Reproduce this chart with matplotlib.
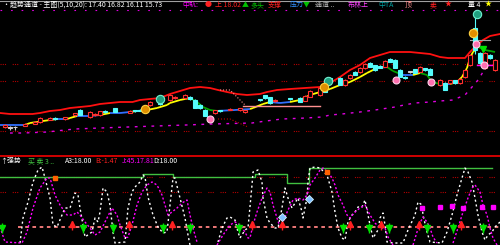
import numpy as np
import matplotlib
matplotlib.use('Agg')
import matplotlib.pyplot as plt
from matplotlib.patches import Rectangle
from matplotlib.collections import LineCollection
from matplotlib.lines import Line2D

plt.rcParams['font.family'] = ['Noto Sans CJK SC', 'DejaVu Sans']
plt.rcParams['font.size'] = 5.5

########################################################
# main panel (price)
upper_d = [0, 2, 6.5, 8, 10, 12, 14, 16, 18, 20, 22, 24, 26.5, 28, 30, 32, 34, 36, 38, 40,
           42, 43.6, 45.4, 47.4, 49.4, 52, 53.4, 55.4, 58, 61, 64, 66, 68, 70, 72, 74, 76,
           78, 82, 84, 86, 88, 89.6, 93, 94, 95.4, 96.6, 98, 100]
upper_p = [8.7, 8.6, 8.6, 8.7, 8.9, 9.0, 9.2, 9.3, 9.4, 9.6, 9.7, 9.8, 9.8, 10.0, 10.1, 10.2,
           10.6, 10.9, 11.2, 11.3, 11.2, 11.0, 10.8, 10.6, 10.5, 10.6, 10.8, 11.0, 11.1, 11.2,
           11.3, 11.7, 12.3, 13.0, 13.5, 14.2, 14.5, 14.8, 14.8, 14.7, 14.6, 14.3, 14.2, 14.2,
           14.8, 15.5, 16.0, 16.4, 16.6]

mid_d = [0, 2, 5, 6, 7.4, 8.6, 11.4, 13.4, 14, 15.4, 18, 20, 22, 24, 26, 27.4, 29.4, 31.4,
         33.4, 34, 36, 38, 39.4, 40.6, 42, 43.4, 47, 50, 50.6, 52.6, 54, 56, 58, 60, 62, 64,
         66, 68, 70, 72, 73.4, 75.4, 77.4, 78.6, 80.6, 82.6, 84, 85.4, 86.4, 88, 90, 91.4,
         92.4, 93.4, 94, 94.6, 95.6, 97, 99]
mid_p = [7.5, 7.5, 7.5, 7.7, 7.8, 7.9, 8.1, 8.1, 8.2, 8.4, 8.4, 8.5, 8.7, 8.7, 8.8, 8.9, 9.0,
         9.2, 9.5, 9.7, 10.0, 10.2, 9.8, 9.3, 9.0, 8.9, 9.0, 9.1, 9.2, 9.6, 9.8, 9.7, 9.8,
         10.0, 10.5, 10.8, 11.1, 11.5, 11.8, 12.3, 12.7, 13.2, 13.3, 12.9, 12.5, 12.5, 12.7,
         12.5, 11.8, 11.6, 11.6, 11.8, 12.3, 13.2, 14.2, 14.8, 15.3, 15.0, 14.8]

lower_d = [2, 4.6, 9.4, 13, 15, 20, 25.6, 31.2, 37.2, 42.4, 50.4, 53.2, 56.4, 61.2, 64.4, 66,
           68.4, 72, 75, 79, 80.8, 83, 86, 88, 90.6, 93, 94.4, 95.6, 96.6]
lower_p = [6.7, 6.7, 6.8, 7.0, 7.1, 7.2, 7.3, 7.4, 7.5, 7.6, 7.7, 7.9, 8.1, 8.2, 8.3, 8.5, 8.6,
           8.8, 9.0, 9.3, 9.5, 9.7, 9.8, 9.9, 10.0, 10.5, 11.3, 12.0, 12.8]

cd_day = [1, 2, 3, 5, 7, 8, 10, 11, 13, 15, 16, 18, 19, 20, 21, 23, 26, 27, 28, 30, 32, 34, 35,
          37, 38, 39, 40, 41, 43, 44, 46, 48, 49, 52, 53, 54, 55, 58, 60, 61, 62, 64, 65, 66,
          68, 69, 70, 71, 72, 73, 74, 75, 76, 77, 78, 79, 80, 81, 82, 83, 84, 85, 86, 88, 89,
          90, 91, 92, 93, 94, 95, 96, 97, 98, 99]
cd_open = [7.3, 7.2, 7.25, 7.4, 7.6, 7.8, 8.0, 8.2, 8.1, 8.5, 9.0, 8.3, 8.5, 8.5, 8.9, 9.2, 8.7,
           9.0, 9.0, 9.5, 9.7, 10.0, 10.2, 10.2, 10.3, 10.0, 9.5, 9.0, 8.7, 9.0, 9.0, 9.0, 8.8,
           10.1, 10.5, 10.3, 9.9, 10.2, 10.2, 9.9, 10.3, 10.5, 11.0, 12.2, 12.2, 11.5, 12.2,
           12.8, 12.8, 13.2, 13.7, 13.5, 13.4, 13.3, 14.1, 14.0, 13.0, 12.3, 12.8, 13.1, 12.8,
           13.2, 13.1, 11.5, 11.7, 11.7, 12.0, 11.7, 12.3, 13.5, 17.2, 14.7, 13.2, 14.5, 13.0]
cd_close = [7.5, 7.2, 7.25, 7.6, 7.8, 8.2, 8.2, 8.1, 8.3, 8.7, 8.5, 8.8, 8.6, 8.9, 8.8, 8.8, 8.9,
            8.9, 8.9, 9.8, 9.6, 10.5, 10.3, 10.5, 10.1, 9.2, 9.2, 8.4, 9.0, 8.9, 9.1, 9.2, 9.0,
            10.0, 10.2, 9.7, 10.0, 10.1, 9.8, 10.4, 10.9, 11.2, 10.8, 11.8, 11.5, 12.0, 12.5,
            12.5, 13.2, 13.6, 13.3, 13.0, 13.2, 13.9, 13.8, 13.2, 12.3, 12.2, 12.8, 12.7, 13.3,
            13.0, 12.5, 12.0, 11.0, 12.0, 11.7, 12.1, 13.0, 14.5, 15.0, 13.7, 14.7, 14.2, 14.0]
cd_high = [7.6, 7.4, 7.4, 7.7, 7.9, 8.3, 8.3, 8.3, 8.3, 8.7, 9.1, 8.9, 8.7, 8.9, 9.0, 9.2, 9.0,
           9.0, 9.1, 9.9, 9.7, 10.6, 10.4, 10.6, 10.4, 10.1, 9.6, 9.1, 9.0, 9.0, 9.2, 9.2, 9.0,
           10.1, 10.5, 10.3, 10.1, 10.2, 10.3, 10.5, 11.0, 11.3, 11.1, 12.3, 12.3, 12.1, 12.6,
           12.9, 13.3, 13.7, 13.8, 13.5, 13.5, 14.0, 14.2, 14.1, 13.1, 12.4, 12.9, 13.1, 13.4,
           13.2, 13.2, 12.1, 11.8, 12.0, 12.0, 12.2, 13.1, 14.6, 18.4, 14.8, 14.8, 14.6, 14.1]
cd_low = [7.2, 7.0, 7.0, 7.4, 7.6, 7.7, 8.0, 8.0, 8.0, 8.4, 8.5, 8.2, 8.4, 8.4, 8.7, 8.8, 8.7,
          8.8, 8.9, 9.4, 9.5, 9.9, 10.1, 10.1, 10.0, 9.2, 9.1, 8.4, 8.6, 8.8, 9.0, 8.9, 8.7,
          9.9, 10.1, 9.6, 9.8, 10.0, 9.8, 9.9, 10.3, 10.4, 10.8, 11.8, 11.5, 11.4, 12.1, 12.5,
          12.7, 13.1, 13.3, 12.9, 13.2, 13.3, 13.8, 13.2, 12.3, 12.1, 12.7, 12.7, 12.8, 12.9,
          12.5, 11.4, 11.0, 11.6, 11.6, 11.6, 12.2, 13.4, 14.6, 13.6, 13.1, 14.1, 12.9]

grid_p = [13.6, 11.9, 6.9]
top_line_p = 19.0

teal_coin_d = [31.9, 65.5, 95.3]
teal_coin_p = [10.1, 11.9, 18.6]
gold_coin_d = [29, 64.8, 94.5]
gold_coin_p = [9.1, 11.3, 16.7]
pink_d = [42, 79.2, 86.2, 95.2, 96.8]
pink_p = [8.07, 12.0, 11.8, 15.6, 13.5]

# support / resistance marks
salmon_d = [48.6, 64]
salmon_p = [9.4, 9.4]
pink_drop_d = [44, 46, 49]
pink_drop_p = [11.0, 11.0, 9.5]
red_drop_d = [43.6, 46, 49.6]
red_drop_p = [8.1, 8.1, 7.3]
gray_seg_d = [94, 98]
gray_seg_p = [16.0, 16.0]
mag_seg_d = [95.4, 98.4]
mag_seg_p = [13.5, 13.5]

# lower panel (oscillator)
white_d = [4, 4.6, 5.6, 6.6, 7.6, 8.4, 9, 10, 10.6, 11.4, 12.4, 13, 14, 15, 15.6, 16, 16.6, 17,
           18.4, 19, 19.6, 20, 20.6, 21.4, 22, 22.6, 23, 25, 25.6, 26.4, 27, 28, 28.6, 29, 29.6,
           30.6, 31.6, 32.6, 33.4, 34, 34.6, 35, 36, 37, 37.6, 38, np.nan,
           43.6, 44.4, 45.4, 46, 47, 47.6, 48, 49, 49.6, 50.4, 50.6, 51.6, 52.4, 52.6, 53.4, 54,
           55, 55.6, 56.4, 57, 57.6, 58.4, 59, 59.6, 60.4, 60.6, 61, 61.4, 61.6, 62, 63, 64,
           65.4, 66.4, 67, 67.6, 68.4, 69, 69.6, 70.4, 71, 71.6, 72.4, 73, 73.4, 74, 74.6, 75.6,
           76, 76.6, 77, 77.4, 78.6, 80.6, 81.6, 83, 83.6, 84.4, 84.6, 85.4, 86, 88.4, 89.4,
           90.4, 91.4, 92.4, 93, 93.6, 94.4, 95, 95.6, 96.4, 97, 97.6, 98.4, 99, 100]
white_v = [-32, 18, 50, 90, 114, 120, 98, 58, 4, 0, 24, 38, 38, 68, 64, 38, 4, -20, -10, 18, 10,
           30, 78, 70, 44, -10, -32, -30, 38, 70, 80, 90, 104, 100, 60, 24, 0, -12, -10, 44, 98,
           98, 58, 18, -16, -36, np.nan,
           -30, -2, 18, 20, 14, -10, -22, -6, -2, 84, 110, 114, 90, 58, 18, 8, -2, -2, 38, 78,
           58, 38, 48, 58, 30, 18, 38, 58, 90, 118, 120, 118, 104, 70, 30, -2, -22, -26, 10, 24,
           30, 40, 40, 54, 34, 4, -22, -6, 18, 28, 4, -30, -32, -32, -6, 24, 50, 44, 24, -10,
           -30, -32, -10, 24, 64, 98, 118, 110, 90, 58, 24, -10, -26, -16, -10, 0, 10]

mag_d = [0, 1, 4.4, 5.4, 6.6, 8, 9.4, 10, 11, 12, 13.4, 14.6, 15.4, 16, 17, 18, 19, 20, 21.4,
         22.4, 23.4, 24, 25, 25.6, 26.4, 27.4, 28.4, 29.4, 30.4, 31.4, 32.4, 33, 33.6, 34.4,
         35.4, 36.4, 37.4, 38, 38.6, 39.4, np.nan,
         43.4, 44.6, 46, 47, 48, 49, 49.6, 50, 50.6, 51.4, 52.4, 53.4, 54, 54.6, 55.4, 56, 56.6,
         57.6, 58.6, 59.6, 60.6, 61.4, 62, 63, 64, 64.6, 65.6, 66.4, 67, 67.6, 68.6, 69.4, 70,
         71, 72, 73, 74, 75, 76, 77, 77.6, 78.6, np.nan,
         82.6, 83.4, 84, 84.6, 85.4, 86, 86.6, 87.4, np.nan,
         90.6, 91.6, 92.6, 93.6, 94.4, 95, 96, 96.6, 97.4, 98, 98.6, 99.4]
mag_v = [0, -30, -32, -10, 38, 78, 98, 98, 64, 44, 24, 24, 30, 24, 10, -2, -16, -10, 18, 38, 24,
         4, -22, -20, 4, 44, 70, 84, 90, 84, 64, 44, 24, 30, 38, 48, 54, 24, -2, -30, np.nan,
         -36, -16, 4, 10, 4, -10, -22, -22, 4, 30, 58, 78, 70, 44, 18, 0, 10, 34, 54, 58, 54,
         64, 84, 98, 114, 118, 110, 98, 84, 64, 44, 24, 18, 30, 38, 44, 24, 8, -2, -2, -20,
         -36, np.nan,
         -36, -10, 8, 20, 10, -2, -20, -32, np.nan,
         -32, -2, 30, 58, 78, 84, 70, 44, 24, -2, -22, -36]

green_d = [0, 28.6, 34.6, 51, 57.4, 61.8, 98.4]
green_v = [100, 106, 100, 106, 88, 118, 118]
osc_grid_v = [100, 70]
base_v = 0

buy_d = [0.4, 16.6, 22.6, 32.6, 38, 47.8, 68.6, 73.8, 77.8, 85.4, 90.6, 96.6]
sell_d = [14.4, 25.8, 34.4, 50.4, 56.4, 70, 76.2, 83.8, 92.2]
box_d = [84.4, 88, 90.4, 92.6, 96.4, 98.6]
box_v = [38, 40, 42, 38, 40, 40]
cloud_d = [56.4, 61.8]
cloud_v = [20, 56]
########################################################

fig = plt.figure(figsize=(5, 2.45), dpi=100, facecolor='black')
ax = fig.add_axes([0, 90 / 245, 1, 155 / 245])
ax2 = fig.add_axes([0, 0, 1, 88 / 245])
for a in (ax, ax2):
    a.set_facecolor('black')
    a.set_xlim(0, 100)
    a.set_xticks([])
    a.set_yticks([])
    for s in a.spines.values():
        s.set_visible(False)
ax.set_ylim(4.5, 20.0)
ax2.set_ylim(-36, 140)

# ---------------- main panel
for g in grid_p:
    ax.axhline(g, color='#b00000', lw=0.8, ls=(0, (1, 1, 1, 1, 1, 6)))
ax.axhline(top_line_p, color='#e000e0', lw=0.8, ls=(0, (1.5, 8)))

ax.plot(upper_d, upper_p, color='#ff1010', lw=1.3)
ax.plot(lower_d, lower_p, color='#e000e0', lw=1.0, ls=(0, (2, 4)))

# mid line coloured by slope
pts = np.column_stack([mid_d, mid_p])
segs = np.stack([pts[:-1], pts[1:]], axis=1)
slope = np.diff(mid_p) / np.diff(mid_d)
cols = ['#ffff00' if s > 0.06 else ('#00a000' if s < -0.06 else '#3070ff') for s in slope]
ax.add_collection(LineCollection(segs, colors=cols, linewidths=1.3))

ax.plot(salmon_d, salmon_p, color='#ff9090', lw=1.0)
ax.plot(pink_drop_d, pink_drop_p, color='#ff9090', lw=0.8, ls=':')
ax.plot(red_drop_d, red_drop_p, color='#c00000', lw=0.8, ls=':')
ax.plot(gray_seg_d, gray_seg_p, color='#a0a0a0', lw=0.8)
ax.plot(mag_seg_d, mag_seg_p, color='#ff00ff', lw=1.0)

w = 0.7
for d, o, c, h, l in zip(cd_day, cd_open, cd_close, cd_high, cd_low):
    if c > o:
        col, fc = '#ff3030', 'black'
    elif c < o:
        col, fc = '#54fcfc', '#54fcfc'
    else:
        col, fc = '#d0d0d0', '#d0d0d0'
    ax.vlines(d, l, h, color=col, lw=0.8, zorder=3)
    lo = min(o, c)
    ht = max(abs(c - o), 0.05)
    ax.add_patch(Rectangle((d - w / 2, lo), w, ht, facecolor=fc, edgecolor=col, lw=0.8, zorder=4))

ax.plot(teal_coin_d, teal_coin_p, 'o', ms=6, mfc='#20a080', mec='#70f0d0', mew=0.8, zorder=6)
ax.plot(gold_coin_d, gold_coin_p, 'o', ms=6, mfc='#e09000', mec='#ffd040', mew=0.8, zorder=6)
ax.plot(pink_d, pink_p, 'o', ms=5, mfc='#ff70b0', mec='#ffd0e8', mew=0.8, zorder=6)
ax.plot([96.6], [15.1], 'v', ms=4, color='#00e000', zorder=6)

# ---------------- lower panel
for g in osc_grid_v:
    ax2.axhline(g, color='#b00000', lw=0.8, ls=(0, (1, 1, 1, 1, 1, 6)))
ax2.plot([3.6, 100], [base_v, base_v], color='#ff8080', lw=1.3, ls=(0, (2, 2)))
ax2.step(green_d, green_v, where='post', color='#40c040', lw=1.0)
ax2.plot(white_d, white_v, color='white', lw=1.0, ls=(0, (1.5, 2)))
ax2.plot(mag_d, mag_v, color='#ff00ff', lw=1.0, ls=(0, (1.5, 1.5)))

ax2.plot(buy_d, [base_v - 2] * len(buy_d), 'v', ms=4, color='#00e000', zorder=6)
ax2.vlines(buy_d, base_v - 12, base_v + 8, color='#00e000', lw=1.0, zorder=5)
ax2.plot(sell_d, [base_v + 6] * len(sell_d), '^', ms=4, color='#ff2020', zorder=6)
ax2.vlines(sell_d, base_v - 6, base_v + 12, color='#ff2020', lw=1.0, zorder=5)
ax2.plot(box_d, box_v, 's', ms=3.5, color='#ff00ff', zorder=6)
ax2.plot(cloud_d, cloud_v, 'D', ms=4, mfc='#80c0ff', mec='#d0f0ff', mew=0.6, zorder=6)
ax2.plot([11, 65.4], [98, 110], 's', ms=2.5, color='#ff6000', zorder=6)

# ---------------- frame lines and headers
fig.add_artist(Line2D([0, 1], [1 - 0.8 / 245] * 2, color='#a0a0a0', lw=0.8))
fig.add_artist(Line2D([0, 1], [1 - 156 / 245] * 2, color='#e00000', lw=1.3))

top_parts = [(2, '·', 'white'), (10, '趋势通道 - 主图(5,10,20): 17.40 16.82 16.11 15.73', 'white'),
             (182, '中轨:', '#ff00ff'), (205, '●', '#ff2020'), (215, '上 18.02', '#ff2020'),
             (242, '▲', '#00c000'), (250, '多头', '#00c000'), (268, '支撑', '#ff2020'),
             (290, '压力', '#3090ff'), (303, '▼', '#00c000'), (315, '通道 ..', '#b0b0b0'),
             (348, '布林上', '#ff40ff'), (378, '中TA', '#00a0a0'), (405, '顶', '#ff9090'),
             (430, '卖', '#ff2020'), (445, '★', '#ff2020'), (468, '量 4', 'white'),
             (485, '★', '#ffff00')]
for x, s, c in top_parts:
    fig.text(x / 500, 1 - 5 / 245, s, color=c, fontsize=5, va='center', ha='left')

low_parts = [(0, '↑强势', 'white'), (28, '买 卖 3 ..', '#40c040'),
             (65, 'A3:18.00', 'white'), (95, 'B:-1.47', '#ff2020'),
             (122, 'J:45.17.81', '#ff00ff'), (153, 'D:18.00', 'white')]
for x, s, c in low_parts:
    fig.text(x / 500, 1 - 161 / 245, s, color=c, fontsize=5, va='center', ha='left')

fig.savefig('out.png', dpi=100, facecolor='black')
